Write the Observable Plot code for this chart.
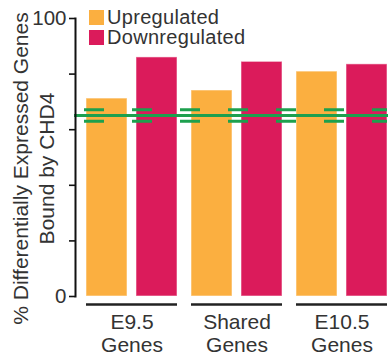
<!DOCTYPE html>
<html>
<head>
<meta charset="utf-8">
<script src="https://cdn.jsdelivr.net/npm/d3@7"></script>
<script src="https://cdn.jsdelivr.net/npm/@observablehq/plot@0.6"></script>
<style>
  html, body { margin: 0; padding: 0; background: #fff; }
  #wrap { position: relative; width: 390px; height: 363px; font-family: "Liberation Sans", Arial, sans-serif; }
  #legend { position: absolute; left: 89px; top: 7px; font-size: 20px; line-height: 20px; letter-spacing: 0.3px; color: #333; }
  #legend .row { display: flex; align-items: center; white-space: nowrap; }
  #legend .sw { width: 15px; height: 15px; margin-right: 3px; }
</style>
</head>
<body>
<div id="wrap"></div>
<script>
// ---- data ----
const groups = ["E9.5\nGenes", "Shared\nGenes", "E10.5\nGenes"];
const types = ["Upregulated", "Downregulated"];
const upValues = [71.2, 74.1, 80.9];
const downValues = [86.0, 84.4, 83.5];
const expectedMean = 65.1;
const expectedLow = 63.0;
const expectedHigh = 67.2;
const yTicks = [0, 20, 40, 60, 80, 100];
const yTickLabels = ["0", "", "", "", "", "100"];
const colors = ["#FBAF40", "#DB1B5B"];

const upRows = groups.map((g, i) => ({group: g, type: types[0], value: upValues[i]}));
const downRows = groups.map((g, i) => ({group: g, type: types[1], value: downValues[i]}));

const green = "#1DA04E";
const textColor = "#333";
const barInset = 50; // split each group band into two bars

const chart = Plot.plot({
  width: 390,
  height: 363,
  marginTop: 18,
  marginBottom: 67,
  marginLeft: 75,
  marginRight: 3,
  style: {fontFamily: "'Liberation Sans', Arial, sans-serif", color: textColor, background: "#fff"},
  x: {domain: groups, paddingInner: 0.133, paddingOuter: 0.045, align: 1, axis: null},
  y: {domain: [0, 100], axis: null},
  color: {domain: types, range: colors},
  marks: [
    Plot.barY(upRows, {x: "group", y: "value", fill: "type", insetRight: barInset, stroke: "#fff", strokeOpacity: 0.45, strokeWidth: 1.2}),
    Plot.barY(downRows, {x: "group", y: "value", fill: "type", insetLeft: barInset, stroke: "#fff", strokeOpacity: 0.45, strokeWidth: 1.2}),
    Plot.tickY(groups, {x: (d) => d, y: () => 0, dy: 8, stroke: "#222", strokeWidth: 2.6}),
    Plot.axisX({anchor: "bottom", tickSize: 0, tickPadding: 15, fontSize: 21, lineHeight: 1.14, fill: textColor, label: null}),
    Plot.ruleY([expectedMean], {stroke: green, strokeWidth: 3, insetLeft: -1, insetRight: -1}),
    Plot.ruleY([expectedLow, expectedHigh], {stroke: green, strokeWidth: 3, strokeDasharray: "20 28", strokeDashoffset: 39}),
    Plot.frame({anchor: "left", stroke: "#111", strokeWidth: 2}),
    Plot.axisY({ticks: yTicks, tickFormat: (d) => yTickLabels[yTicks.indexOf(d)], tickSize: 6, tickPadding: 3, fontSize: 20.5, stroke: "#111", strokeWidth: 1.6, fill: textColor, label: null}),
    Plot.text(["% Differentially Expressed Genes\nBound by CHD4"], {frameAnchor: "left", dx: -43, dy: 11, rotate: -90, fontSize: 21, lineHeight: 1.24, fill: textColor, textAnchor: "middle", lineAnchor: "middle"})
  ]
});

const wrap = document.getElementById("wrap");
wrap.appendChild(chart);

const legend = document.createElement("div");
legend.id = "legend";
types.forEach((t, i) => {
  const row = document.createElement("div");
  row.className = "row";
  const sw = document.createElement("div");
  sw.className = "sw";
  sw.style.background = colors[i];
  const lab = document.createElement("span");
  lab.textContent = t;
  row.appendChild(sw);
  row.appendChild(lab);
  legend.appendChild(row);
});
wrap.appendChild(legend);
</script>
</body>
</html>
